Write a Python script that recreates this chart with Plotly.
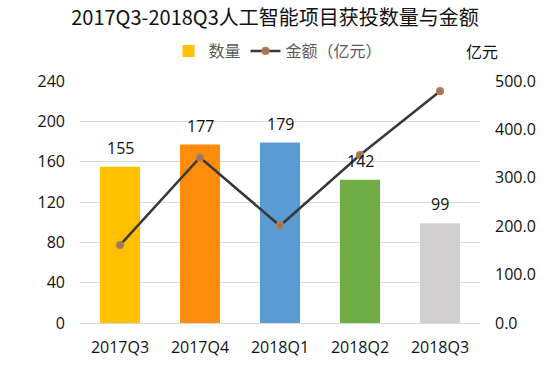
import plotly.graph_objects as go

categories = ["2017Q3", "2017Q4", "2018Q1", "2018Q2", "2018Q3"]
counts = [155, 177, 179, 142, 99]
amounts = [161, 342, 201, 347, 479]
bar_colors = ["#FFC000", "#FF8C0A", "#5B9BD5", "#70AD47", "#D0CECE"]

FONT = "Open Sans, Noto Sans CJK SC, sans-serif"
CJK = "Noto Sans CJK SC, sans-serif"

fig = go.Figure()
fig.add_trace(go.Bar(
    x=categories, y=counts, name="数量",
    marker=dict(color=bar_colors, line=dict(width=0)),
    yaxis="y",
))
fig.add_trace(go.Scatter(
    x=categories, y=amounts, name="金额（亿元）",
    mode="lines+markers",
    line=dict(color="#383838", width=2.5),
    marker=dict(size=7, color="#8C7A70", line=dict(color="#D07A40", width=1.2)),
    yaxis="y2",
))

for c, v in zip(categories, counts):
    fig.add_annotation(x=c, y=v, xref="x", yref="y", text=str(v),
                       showarrow=False, yanchor="bottom", yshift=6,
                       font=dict(size=16, color="#111111", family=FONT))

fig.add_annotation(x=1.005, y=1.124, xref="paper", yref="paper", text="亿元",
                   showarrow=False, xanchor="center", yanchor="middle",
                   font=dict(size=16, color="#111111", family=CJK))

fig.update_layout(
    width=550, height=373,
    margin=dict(l=80, r=70, t=81, b=50, autoexpand=False),
    paper_bgcolor="white", plot_bgcolor="white",
    title=dict(text="2017Q3-2018Q3人工智能项目获投数量与金额",
               x=0.5, xanchor="center", y=0.952, yanchor="middle",
               font=dict(size=20, color="#111111", family=CJK)),
    bargap=0.5,
    showlegend=True,
    legend=dict(orientation="h", x=0.495, xanchor="center", y=1.124, yanchor="middle",
                font=dict(size=16, color="#595959", family=CJK),
                itemwidth=30, traceorder="normal"),
    xaxis=dict(showgrid=False, showline=True, linecolor="#D9D9D9", linewidth=1,
               tickfont=dict(size=16, color="#111111", family=FONT),
               ticks="", ticklabelstandoff=10, automargin=False),
    yaxis=dict(range=[0, 240], dtick=40, showgrid=True, gridcolor="#D9D9D9",
               zeroline=False, tickfont=dict(size=16, color="#111111", family=FONT),
               ticks="", ticklabelstandoff=14, automargin=False),
    yaxis2=dict(range=[0, 500], dtick=100, overlaying="y", side="right",
                showgrid=False, zeroline=False, tickformat=".1f",
                tickfont=dict(size=16, color="#111111", family=FONT),
                ticks="", ticklabelstandoff=14, automargin=False),
)

fig.write_html("out.html", config={"displayModeBar": False},
               post_script="document.body.style.margin='0';")
